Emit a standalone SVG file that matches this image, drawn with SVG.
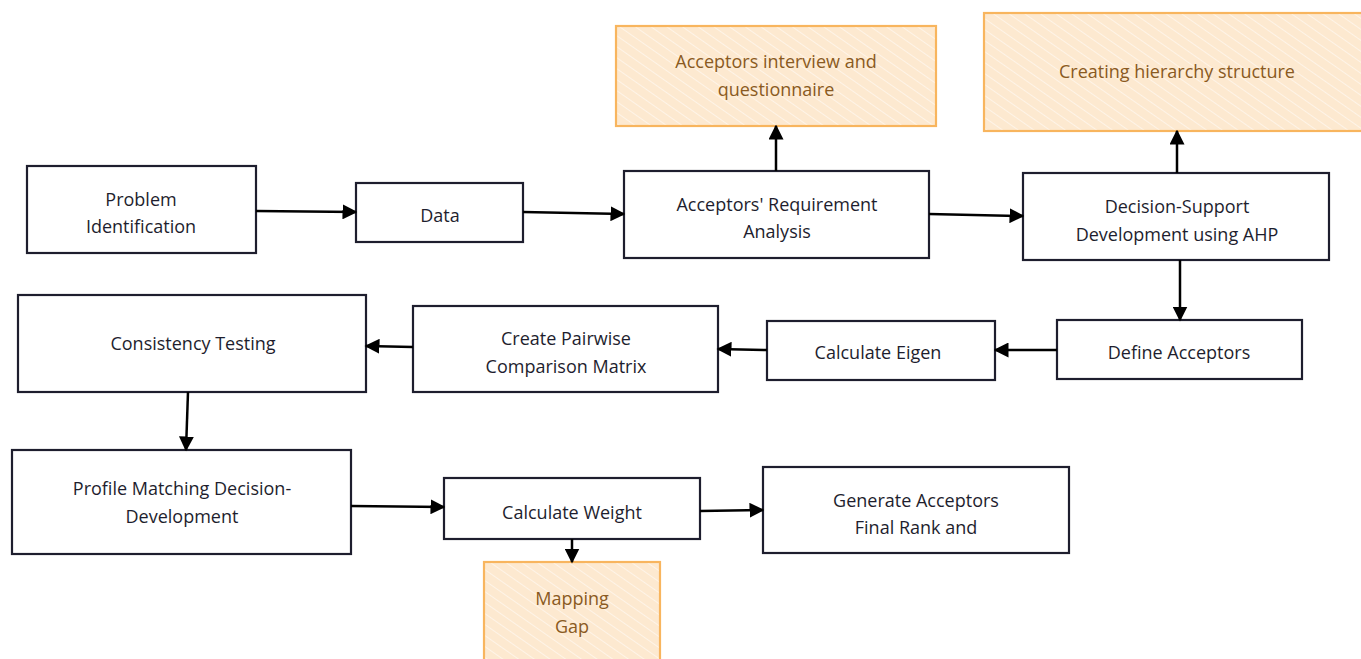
<svg xmlns="http://www.w3.org/2000/svg" width="1361" height="659" viewBox="0 0 1361 659">
<defs>
<pattern id="hatch" patternUnits="userSpaceOnUse" width="9" height="9" patternTransform="rotate(-55)">
<rect width="9" height="9" fill="#fde9d0"/>
<line x1="0" y1="0" x2="0" y2="9" stroke="#ffffff" stroke-width="1.2" opacity="0.85"/>
</pattern>
<marker id="arrB" viewBox="0 0 10 10" refX="9" refY="5" markerWidth="15" markerHeight="15" markerUnits="userSpaceOnUse" orient="auto">
<path d="M0,0 L10,5 L0,10 z" fill="#000"/>
</marker>
</defs>
<style>
.box{fill:#ffffff;stroke:#1e1e2e;stroke-width:2.2}
.note{fill:url(#hatch);stroke:#f8b55e;stroke-width:2.2}
.t{font-family:"Open Sans","Noto Sans",sans-serif;font-size:18px;fill:#1e1e2e;text-anchor:middle}
.tn{font-family:"Open Sans","Noto Sans",sans-serif;font-size:18px;fill:#8a5a22;text-anchor:middle}
.c{fill:none;stroke:#000;stroke-width:2.5;marker-end:url(#arrB)}
</style>
<rect width="1361" height="659" fill="#ffffff"/>
<g id="n-interview"><rect class="note" x="616" y="26" width="320" height="100"/><text class="tn" x="776" y="68">Acceptors interview and</text><text class="tn" x="776" y="96">questionnaire</text></g>
<g id="n-hierarchy"><rect class="note" x="984" y="13" width="380" height="118"/><text class="tn" x="1177" y="78">Creating hierarchy structure</text></g>
<g id="n-problem"><rect class="box" x="27" y="166" width="229" height="87"/><text class="t" x="141" y="206">Problem</text><text class="t" x="141" y="233">Identification</text></g>
<g id="n-data"><rect class="box" x="356" y="183" width="167" height="59"/><text class="t" x="440" y="222">Data</text></g>
<g id="n-req"><rect class="box" x="624" y="171" width="305" height="87"/><text class="t" x="777" y="211">Acceptors' Requirement</text><text class="t" x="777" y="238">Analysis</text></g>
<g id="n-ahp"><rect class="box" x="1023" y="173" width="306" height="87"/><text class="t" x="1177" y="213">Decision-Support</text><text class="t" x="1177" y="241">Development using AHP</text></g>
<g id="n-consistency"><rect class="box" x="18" y="295" width="348" height="97"/><text class="t" x="193" y="350">Consistency Testing</text></g>
<g id="n-pairwise"><rect class="box" x="413" y="306" width="305" height="86"/><text class="t" x="566" y="345">Create Pairwise</text><text class="t" x="566" y="373">Comparison Matrix</text></g>
<g id="n-eigen"><rect class="box" x="767" y="321" width="228" height="59"/><text class="t" x="878" y="359">Calculate Eigen</text></g>
<g id="n-define"><rect class="box" x="1057" y="320" width="245" height="59"/><text class="t" x="1179" y="359">Define Acceptors</text></g>
<g id="n-profile"><rect class="box" x="12" y="450" width="339" height="104"/><text class="t" x="182" y="495">Profile Matching Decision-</text><text class="t" x="182" y="523">Development</text></g>
<g id="n-weight"><rect class="box" x="444" y="478" width="256" height="61"/><text class="t" x="572" y="519">Calculate Weight</text></g>
<g id="n-generate"><rect class="box" x="763" y="467" width="306" height="86"/><text class="t" x="916" y="507">Generate Acceptors</text><text class="t" x="916" y="534">Final Rank and</text></g>
<g id="n-mapping"><rect class="note" x="484" y="562" width="176" height="100"/><text class="tn" x="572" y="605">Mapping</text><text class="tn" x="572" y="633">Gap</text></g>
<g id="connectors">
<path class="c" d="M256,211 L356,212"/>
<path class="c" d="M523,212 L624,214"/>
<path class="c" d="M776,171 L776,126"/>
<path class="c" d="M929,214 L1023,216"/>
<path class="c" d="M1177,173 L1177,131"/>
<path class="c" d="M1180,260 L1180,320"/>
<path class="c" d="M1057,350 L995,350"/>
<path class="c" d="M767,350 L718,349"/>
<path class="c" d="M413,347 L366,346"/>
<path class="c" d="M188,392 L186,450"/>
<path class="c" d="M351,506 L444,507"/>
<path class="c" d="M700,511 L763,510"/>
<path class="c" d="M572,539 L572,562"/>
</g>
</svg>
